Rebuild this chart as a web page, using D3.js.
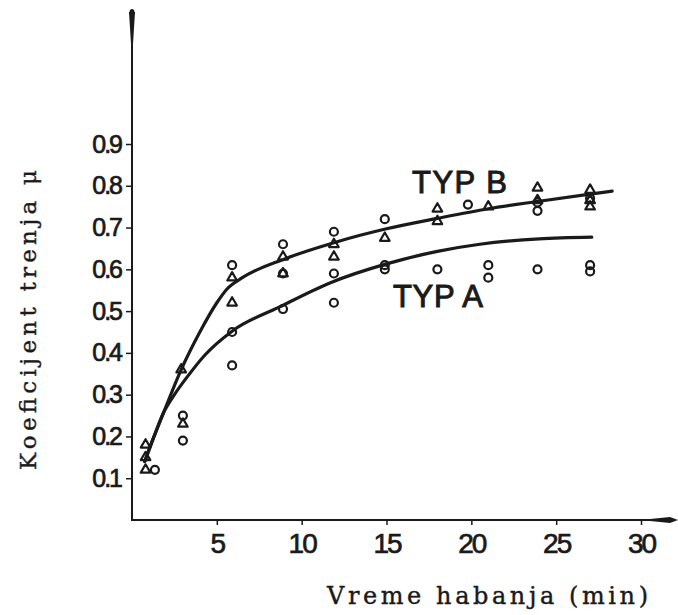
<!DOCTYPE html>
<html>
<head>
<meta charset="utf-8">
<script src="https://cdn.jsdelivr.net/npm/d3@7"></script>
<style>
  html, body { margin: 0; padding: 0; background: #fff; }
  svg { display: block; }
</style>
</head>
<body>
<svg id="chart" width="678" height="615"></svg>
<script>
// ---- data ----
const xTicks = [5, 10, 15, 20, 25, 30];
const yTicks = [0.1, 0.2, 0.3, 0.4, 0.5, 0.6, 0.7, 0.8, 0.9];
const xLabel = "Vreme habanja (min)";
const yLabel = "Koeficijent trenja \u03bc";

// fitted curves (as drawn in the figure)
const curveB = [[0.75,0.14],[1.3,0.2],[1.85,0.256],[2.9,0.36],[4,0.45],[5,0.52],[5.6,0.553],[6.5,0.58],[9,0.625],[12,0.665],[15,0.697],[18,0.722],[21,0.745],[24,0.763],[27,0.78],[28.3,0.787]];
const curveA = [[0.75,0.14],[1.3,0.2],[1.85,0.256],[2.5,0.3],[3.3,0.345],[4.3,0.395],[5.9,0.452],[8.7,0.51],[11.7,0.568],[15,0.613],[18,0.643],[20.5,0.66],[24,0.673],[27.1,0.677]];

// measured points: circles and triangles
const circleX = [1.35, 3, 3, 5.9, 5.9, 5.9, 8.9, 8.9, 8.9, 11.9, 11.9, 11.9, 14.9, 14.9, 14.9, 18, 19.8, 21, 21, 23.9, 23.9, 23.9, 27, 27, 27];
const circleY = [0.12, 0.25, 0.19, 0.61, 0.45, 0.37, 0.66, 0.59, 0.505, 0.69, 0.59, 0.52, 0.72, 0.61, 0.60, 0.60, 0.755, 0.61, 0.58, 0.76, 0.74, 0.60, 0.77, 0.61, 0.595];
const triX = [0.8, 0.8, 0.8, 2.9, 3, 5.9, 5.9, 8.9, 8.9, 11.9, 11.9, 14.9, 18, 18, 21, 23.9, 23.9, 27, 27, 27];
const triY = [0.12, 0.15, 0.18, 0.36, 0.23, 0.58, 0.52, 0.63, 0.59, 0.66, 0.63, 0.675, 0.745, 0.715, 0.75, 0.795, 0.765, 0.79, 0.765, 0.75];

const seriesLabels = ["TYP B", "TYP A"];

// ---- drawing ----
const svg = d3.select("#chart");
const x = d3.scaleLinear().domain([0, 30]).range([132, 641]);
const y = d3.scaleLinear().domain([0, 0.9]).range([520, 144]);
const ink = "#1a1a1a";
const sans = "'Liberation Sans', Arial, sans-serif";
const serif = "'DejaVu Serif', 'Liberation Serif', serif";

// axes ticks + labels
const gy = svg.append("g").attr("transform", `translate(${x(0)},0)`)
  .call(d3.axisLeft(y).tickValues(yTicks).tickSize(6).tickPadding(5).tickFormat(d3.format(".1f")));
gy.select(".domain").remove();
gy.selectAll("line").attr("stroke", ink).attr("stroke-width", 1.5);
gy.selectAll("text").attr("fill", ink).attr("stroke", ink).attr("stroke-width", 0.7)
  .style("font-family", sans).style("font-size", "25px").style("letter-spacing", "-2px");

const gx = svg.append("g").attr("transform", `translate(0,${y(0)})`)
  .call(d3.axisBottom(x).tickValues(xTicks).tickSize(5).tickPadding(8).tickFormat(d3.format("d")));
gx.select(".domain").remove();
gx.selectAll("line").attr("stroke", ink).attr("stroke-width", 1.5);
gx.selectAll("text").attr("fill", ink).attr("stroke", ink).attr("stroke-width", 0.7)
  .style("font-family", sans).style("font-size", "28px").style("letter-spacing", "-2px");

// axis lines with arrows
svg.append("line").attr("x1", x(0)).attr("x2", 655).attr("y1", y(0)).attr("y2", y(0))
  .attr("stroke", ink).attr("stroke-width", 2);
svg.append("line").attr("x1", x(0)).attr("x2", x(0)).attr("y1", y(0) + 1).attr("y2", 30)
  .attr("stroke", ink).attr("stroke-width", 2);
svg.append("path").attr("d", `M${x(0)-3},12 L${x(0)+3},12 L${x(0)+1},44 L${x(0)-1},44 Z`).attr("fill", ink);
svg.append("path").attr("d", `M${x(0)-2},10 Q${x(0)},8 ${x(0)+2},10 L${x(0)+3},14 L${x(0)-3},14 Z`).attr("fill", ink);
svg.append("path").attr("d", `M650,${y(0)-1} L670,${y(0)-3} L678,${y(0)} L670,${y(0)+3} L650,${y(0)+1} Z`).attr("fill", ink);

// curves
const line = d3.line().x(d => x(d[0])).y(d => y(d[1])).curve(d3.curveMonotoneX);
[curveB, curveA].forEach(c => {
  svg.append("path").attr("d", line(c)).attr("fill", "none")
    .attr("stroke", ink).attr("stroke-width", 3.2).attr("stroke-linecap", "round");
});

// circle markers
svg.append("g").selectAll("circle").data(d3.range(circleX.length)).join("circle")
  .attr("cx", i => x(circleX[i])).attr("cy", i => y(circleY[i])).attr("r", 4)
  .attr("fill", "none").attr("stroke", ink).attr("stroke-width", 2.2);

// triangle markers
const tri = d3.symbol().type(d3.symbolTriangle).size(40);
svg.append("g").selectAll("path").data(d3.range(triX.length)).join("path")
  .attr("d", tri).attr("transform", i => `translate(${x(triX[i])},${y(triY[i])})`)
  .attr("fill", "none").attr("stroke", ink).attr("stroke-width", 2.2).attr("stroke-linejoin", "round");

// series labels
svg.append("text").attr("x", 412).attr("y", 193).text(seriesLabels[0])
  .attr("textLength", 95).attr("lengthAdjust", "spacing")
  .attr("fill", ink).attr("stroke", ink).attr("stroke-width", 1)
  .style("font-family", sans).style("font-size", "31px");
svg.append("text").attr("x", 393).attr("y", 307).text(seriesLabels[1])
  .attr("textLength", 90).attr("lengthAdjust", "spacing")
  .attr("fill", ink).attr("stroke", ink).attr("stroke-width", 1)
  .style("font-family", sans).style("font-size", "31px");

// axis titles
svg.append("text").attr("x", 327).attr("y", 604).text(xLabel)
  .attr("textLength", 321).attr("lengthAdjust", "spacing")
  .attr("fill", ink).attr("stroke", ink).attr("stroke-width", 0.4)
  .style("font-family", serif).style("font-size", "24px");
svg.append("text").attr("transform", "translate(36,470) rotate(-90)").text(yLabel)
  .attr("textLength", 300).attr("lengthAdjust", "spacing")
  .attr("fill", ink).attr("stroke", ink).attr("stroke-width", 0.4)
  .style("font-family", serif).style("font-size", "23px");
</script>
</body>
</html>
